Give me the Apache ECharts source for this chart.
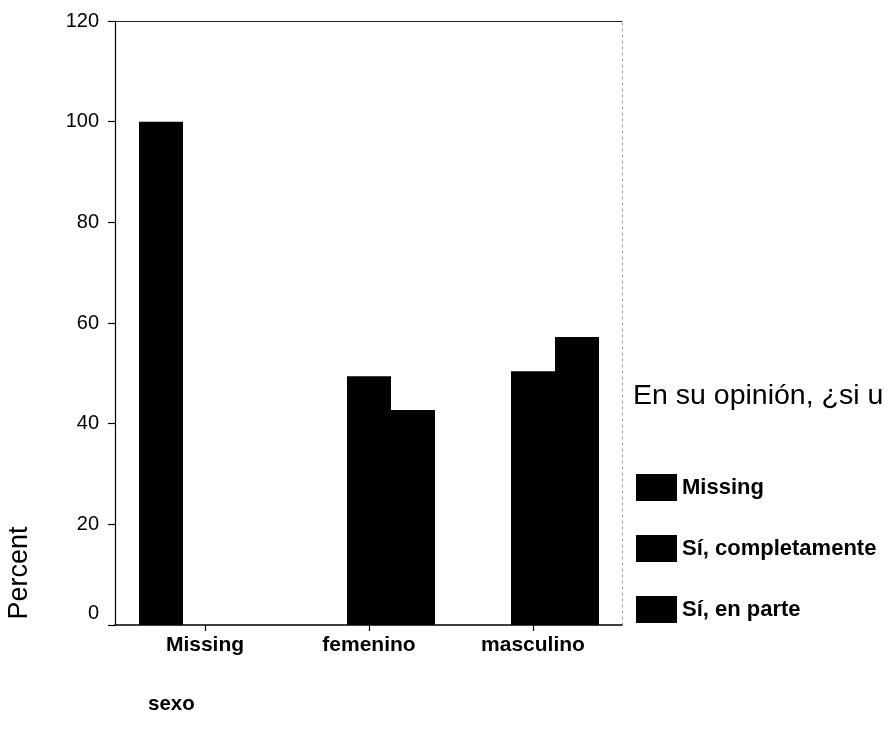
<!DOCTYPE html>
<html>
<head>
<meta charset="utf-8">
<script src="https://cdn.jsdelivr.net/npm/echarts@6/dist/echarts.min.js"></script>
<style>
  html, body { margin: 0; padding: 0; background: #fff; }
  #chart { width: 891px; height: 736px; }
</style>
</head>
<body>
<div id="chart"></div>
<script>
// Categories of "sexo" and percent per answer group
const categories = ['Missing', 'femenino', 'masculino'];
const seriesNames = ['Missing', 'Sí, completamente', 'Sí, en parte'];
const valuesMissing = [100, null, null];
const valuesCompletamente = [null, 49.4, 50.4];
const valuesEnParte = [null, 42.7, 57.2];
const yTicks = { min: 0, max: 120, interval: 20 };

const FONT = '"Liberation Sans", Arial, sans-serif';
const seriesData = [valuesMissing, valuesCompletamente, valuesEnParte];

const chart = echarts.init(document.getElementById('chart'), null, { renderer: 'canvas' });

const frameAxis = (extra) => Object.assign({
  axisTick: { show: false }, axisLabel: { show: false }, splitLine: { show: false }
}, extra);

const option = {
  animation: false,
  backgroundColor: '#fff',
  grid: [
    // frame with the percent axis
    { left: 115, top: 21, width: 507, height: 604 },
    // bar area
    { left: 123, top: 21, width: 492, height: 604 }
  ],
  xAxis: [
    frameAxis({
      gridIndex: 0, type: 'value', min: 0, max: 1, position: 'bottom',
      axisLine: { show: true, onZero: false, lineStyle: { color: '#000', width: 1.5 } }
    }),
    frameAxis({
      gridIndex: 0, type: 'value', min: 0, max: 1, position: 'top',
      axisLine: { show: true, onZero: false, lineStyle: { color: '#222', width: 1.2 } }
    }),
    {
      gridIndex: 1, type: 'category', data: categories,
      axisLine: { show: false },
      axisTick: { show: true, alignWithLabel: true, length: 6, lineStyle: { color: '#000', width: 1.2 } },
      axisLabel: { color: '#000', fontFamily: FONT, fontSize: 21, fontWeight: 'bold', margin: 10 },
      splitLine: { show: false }
    }
  ],
  yAxis: [
    {
      gridIndex: 0, type: 'value', min: yTicks.min, max: yTicks.max, interval: yTicks.interval,
      position: 'left',
      axisLine: { show: true, onZero: false, lineStyle: { color: '#000', width: 1.2 } },
      axisTick: { show: true, inside: false, length: 7, lineStyle: { color: '#000', width: 1.2 } },
      axisLabel: {
        color: '#000', fontFamily: FONT, fontSize: 20, margin: 16,
        formatter: v => (v === 0 ? '{z|0}' : String(v)),
        rich: { z: { fontFamily: FONT, fontSize: 20, color: '#000', padding: [0, 0, 24, 0] } }
      },
      splitLine: { show: false }
    },
    frameAxis({
      gridIndex: 0, type: 'value', min: yTicks.min, max: yTicks.max, position: 'right',
      axisLine: { show: true, onZero: false, lineStyle: { color: '#9a9a9a', width: 1, type: [2, 4] } }
    }),
    {
      gridIndex: 1, type: 'value', min: yTicks.min, max: yTicks.max, show: false
    }
  ],
  legend: {
    orient: 'vertical',
    left: 631, top: 469,
    icon: 'rect',
    itemWidth: 41, itemHeight: 27, itemGap: 34,
    textStyle: { color: '#000', fontFamily: FONT, fontSize: 22, fontWeight: 'bold' },
    data: seriesNames
  },
  series: seriesNames.map((name, i) => ({
    name,
    type: 'bar',
    xAxisIndex: 2,
    yAxisIndex: 2,
    data: seriesData[i],
    barWidth: 44,
    barGap: '0%',
    itemStyle: { color: '#000' }
  })),
  graphic: [
    {
      type: 'text', left: 633, top: 382,
      style: { text: 'En su opinión, ¿si u', fill: '#000', font: '28.5px ' + FONT }
    },
    {
      type: 'text', x: 20, y: 573, rotation: Math.PI / 2,
      style: { text: 'Percent', fill: '#000', font: '27px ' + FONT, textAlign: 'center', textVerticalAlign: 'middle' }
    },
    {
      type: 'text', left: 148, top: 694,
      style: { text: 'sexo', fill: '#000', font: 'bold 20.5px ' + FONT }
    }
  ]
};

chart.setOption(option);
</script>
</body>
</html>
